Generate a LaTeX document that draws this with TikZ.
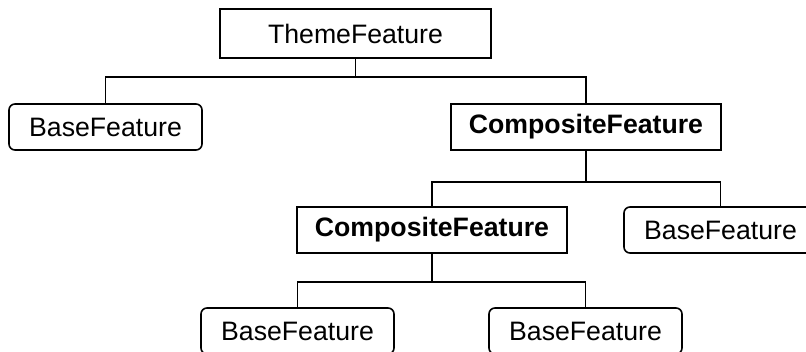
\documentclass[tikz,border=0pt]{standalone}
\usepackage{fontspec}
\setmainfont{Liberation Sans}
\usepackage{tikz}

\begin{document}
\begin{tikzpicture}[x=0.75pt,y=0.75pt,yscale=-1,xscale=1,
  every node/.style={inner sep=0pt,font=\fontsize{20}{24}\selectfont},
  composite/.style={draw,line width=1.2pt,minimum width=202.5pt,minimum height=34.5pt,font=\fontsize{20}{24}\selectfont\bfseries},
  base/.style={draw,line width=1.2pt,rounded corners=4.5pt,minimum width=144.75pt,minimum height=34.5pt},
  link/.style={line width=1.2pt}]
%set diagram size: 806 x 351
\useasboundingbox (0,0) rectangle (806,351);

%Shape: Rectangle [theme]
\node [draw,line width=1.2pt,minimum width=203.25pt,minimum height=36.75pt] (theme) at (355.5,33.5) {ThemeFeature};
%Shape: Rounded Rectangle [base]
\node [base] (baseA) at (105.5,127) {BaseFeature};
%Shape: Rectangle [composite]
\node [composite] (compA) at (586,127) {CompositeFeature};
%Shape: Rectangle [composite]
\node [composite] (compB) at (432,230) {CompositeFeature};
%Shape: Rounded Rectangle [base]
\node [base] (baseB) at (720.5,230) {BaseFeature};
%Shape: Rounded Rectangle [base]
\node [base] (baseC) at (297.5,331) {BaseFeature};
%Shape: Rounded Rectangle [base]
\node [base] (baseD) at (585.5,331) {BaseFeature};

%Junctions
\coordinate (jA) at (355.5,77);
\coordinate (jB) at (586,182);
\coordinate (jC) at (432,282);

%Straight Lines
\draw [link] (theme.south) -- (jA) -| (baseA.north);
\draw [link] (jA) -| (compA.north);
%Straight Lines
\draw [link] (compA.south) -- (jB) -| (compB.north);
\draw [link] (jB) -| (baseB.north);
%Straight Lines
\draw [link] (compB.south) -- (jC) -| (baseC.north);
\draw [link] (jC) -| (baseD.north);
\end{tikzpicture}
\end{document}
